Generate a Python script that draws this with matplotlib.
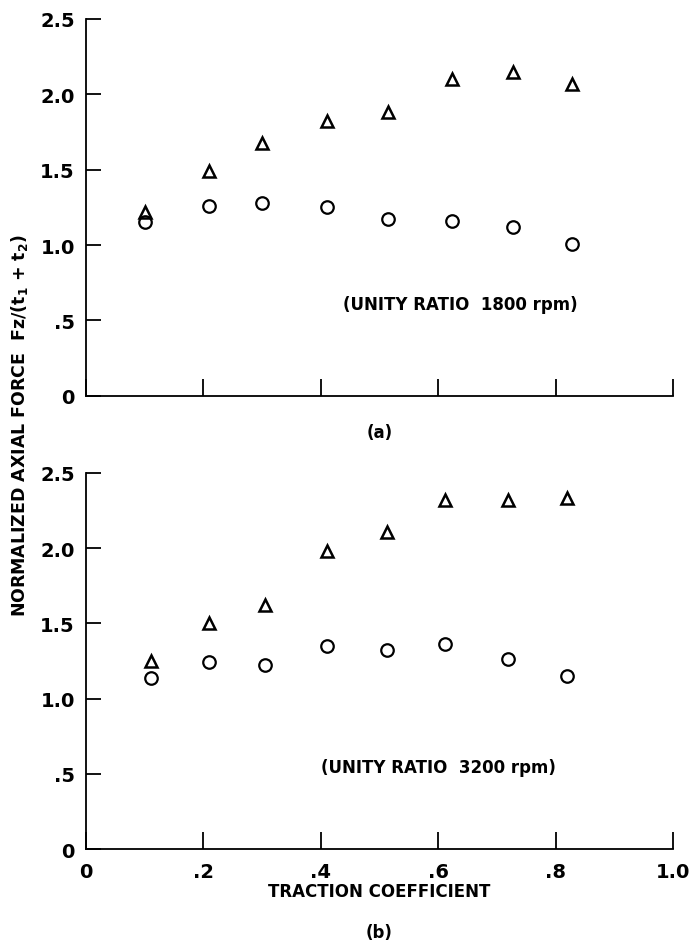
import matplotlib.pyplot as plt

# Data
x_a = [0.10, 0.21, 0.30, 0.41, 0.515, 0.623, 0.727, 0.828]
tri_a = [1.22, 1.49, 1.68, 1.82, 1.88, 2.10, 2.15, 2.07]
circ_a = [1.15, 1.26, 1.28, 1.25, 1.17, 1.16, 1.12, 1.01]

x_b = [0.11, 0.21, 0.305, 0.41, 0.513, 0.612, 0.719, 0.82]
tri_b = [1.25, 1.50, 1.62, 1.98, 2.11, 2.32, 2.32, 2.33]
circ_b = [1.14, 1.24, 1.22, 1.35, 1.32, 1.36, 1.26, 1.15]

xticks = [0, 0.2, 0.4, 0.6, 0.8, 1.0]
xtick_labels = ['0', '.2', '.4', '.6', '.8', '1.0']
yticks = [0, 0.5, 1.0, 1.5, 2.0, 2.5]
ytick_labels = ['0', '.5', '1.0', '1.5', '2.0', '2.5']

plt.rcParams['font.family'] = ['DejaVu Sans']
plt.rcParams['font.weight'] = 'bold'
plt.rcParams['mathtext.fontset'] = 'custom'
plt.rcParams['mathtext.rm'] = 'DejaVu Sans:bold'
plt.rcParams['mathtext.it'] = 'DejaVu Sans:bold'

fig = plt.figure(figsize=(6.91, 9.45), dpi=100)
ax_a = fig.add_axes([0.1245, 0.580, 0.8495, 0.399])
ax_b = fig.add_axes([0.1245, 0.1005, 0.8495, 0.398])


def style(ax, x, tri, circ, show_xlabels):
    ax.plot(x, tri, linestyle='none', marker='^', markersize=8,
            markerfacecolor='none', markeredgecolor='black', markeredgewidth=1.8)
    ax.plot(x, circ, linestyle='none', marker='o', markersize=9,
            markerfacecolor='none', markeredgecolor='black', markeredgewidth=1.6)
    ax.set_xlim(0, 1.0)
    ax.set_ylim(0, 2.5)
    ax.spines['top'].set_visible(False)
    ax.spines['right'].set_visible(False)
    ax.spines['left'].set_linewidth(1.3)
    ax.spines['bottom'].set_linewidth(1.3)
    ax.set_xticks(xticks)
    ax.set_yticks(yticks)
    ax.set_yticklabels(ytick_labels, fontsize=14)
    ax.tick_params(axis='y', direction='in', length=11, width=1.3, pad=8)
    ax.tick_params(axis='x', direction='in', length=12, width=1.3, pad=9)
    if show_xlabels:
        ax.set_xticklabels(xtick_labels, fontsize=14)
    else:
        ax.set_xticklabels([])
    for t in ax.get_xticklines() + ax.get_yticklines():
        t.set_clip_on(False)


style(ax_a, x_a, tri_a, circ_a, False)
style(ax_b, x_b, tri_b, circ_b, True)

ax_a.text(0.438, 0.61, '(UNITY RATIO  1800 rpm)', fontsize=12, va='center', ha='left')
ax_b.text(0.40, 0.547, '(UNITY RATIO  3200 rpm)', fontsize=12, va='center', ha='left')

ax_a.text(0.5, -0.095, '(a)', transform=ax_a.transAxes, ha='center', va='center', fontsize=12)
ax_b.text(0.499, -0.112, 'TRACTION COEFFICIENT', transform=ax_b.transAxes,
          ha='center', va='center', fontsize=12)
ax_b.text(0.5, -0.22, '(b)', transform=ax_b.transAxes, ha='center', va='center', fontsize=12)

fig.text(0.028, 0.55, r'NORMALIZED AXIAL FORCE  Fz/(t$_1$ + t$_2$)', rotation=90,
         ha='center', va='center', fontsize=12.5)

fig.savefig('out.png', dpi=100)
